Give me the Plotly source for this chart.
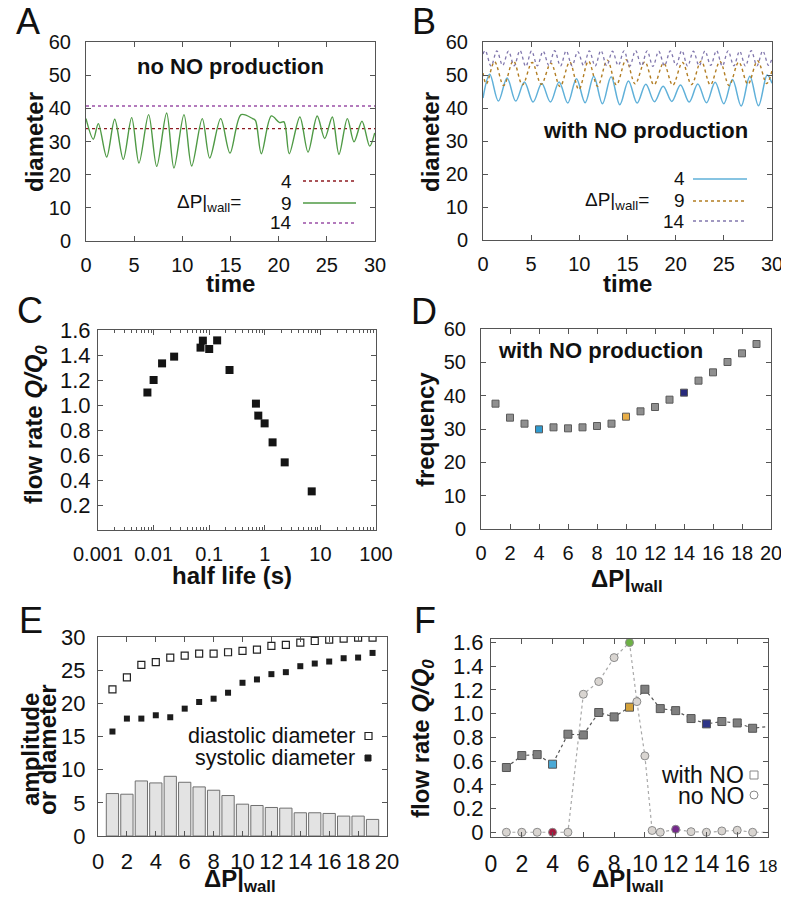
import plotly.graph_objects as go

# the page adds an 8px body margin; the figure is sized to fill the rest
OFF = 8
W, H = 789 - OFF, 906 - OFF
FONT = "Liberation Sans, Arial, Helvetica, sans-serif"
INK = "#111111"
FRAME = "#555555"

# ---------------- Panel A: no NO production ----------------
a_dp_labels = ["4", "9", "14"]
a_level_4 = 33.9
a_level_14 = 40.7
a_time_range = [0, 30]
a_t_9 = [0, 0.76, 1.28, 2.15, 2.98, 3.87, 4.74, 5.5, 6.5, 7.34, 8.37, 9.13, 10.17, 10.97,
         12.07, 12.84, 13.98, 14.95, 16.1, 17.3, 17.6, 18.2, 19.24, 20.1, 20.55, 21.1,
         22.2, 23.05, 24.0, 24.78, 25.57, 26.26, 27.13, 27.82, 28.65, 29.45, 29.97]
a_d_9 = [36.9, 30.7, 35.4, 25.3, 36.7, 24.6, 37.2, 23.5, 38.1, 22.5, 38.6, 22.0, 38.1, 22.6,
         36.9, 25.0, 36.9, 26.5, 38.1, 36.9, 36.3, 26.3, 37.7, 35.7, 35.9, 26.3,
         37.4, 26.8, 37.7, 30.9, 37.4, 26.1, 36.9, 29.9, 36.1, 28.6, 32.6]

# ---------------- Panel B: with NO production ----------------
b_t_4 = [0, 0.7, 1.6, 2.5, 3.4, 4.3, 5.2, 6.1, 7.0, 7.9, 8.8, 9.7, 10.6, 11.5, 12.4, 13.3,
         14.2, 15.1, 16.0, 16.9, 17.8, 18.7, 19.6, 20.5, 21.4, 22.3, 23.2, 24.1, 25.0, 25.9,
         26.8, 27.7, 28.6, 29.5, 30]
b_d_4 = [43.0, 50.2, 42.1, 49.1, 42.1, 47.9, 41.8, 47.4, 41.8, 47.9, 41.5, 48.9, 41.6, 49.6,
         41.3, 49.5, 41.0, 48.2, 41.5, 47.2, 41.9, 46.6, 42.0, 47.0, 41.8, 47.3, 41.6, 47.8,
         41.3, 48.6, 40.6, 49.6, 40.7, 50.0, 47.5]
b_t_9 = [0, 0.35, 1.2, 2.15, 3.15, 4.1, 5.1, 6.05, 7.05, 8.0, 9.0, 9.95, 10.95, 11.9, 12.9,
         13.85, 14.85, 15.8, 16.8, 17.75, 18.75, 19.7, 20.7, 21.65, 22.65, 23.6, 24.6, 25.55,
         26.55, 27.5, 28.5, 29.45, 30]
b_d_9 = [50.6, 47.3, 54.0, 46.8, 54.3, 47.0, 53.8, 47.2, 53.6, 46.5, 53.9, 45.6, 54.2, 46.6,
         54.5, 47.0, 54.6, 47.3, 54.0, 47.0, 53.6, 46.9, 53.8, 47.1, 54.2, 47.0, 54.1, 46.8,
         53.9, 47.2, 54.3, 47.4, 51.4]
b_t_14 = [0, 0.24, 0.84, 1.44, 2.04, 2.64, 3.24, 3.84, 4.44, 5.04, 5.64, 6.24, 6.84, 7.44,
          8.04, 8.64, 9.24, 9.84, 10.44, 11.04, 11.64, 12.24, 12.84, 13.44, 14.04, 14.64,
          15.24, 15.84, 16.44, 17.04, 17.64, 18.24, 18.84, 19.44, 20.04, 20.64, 21.24, 21.84,
          22.44, 23.04, 23.64, 24.24, 24.84, 25.44, 26.04, 26.64, 27.24, 27.84, 28.44, 29.04,
          29.64, 30]
b_d_14 = [56.4, 57.4, 52.7, 57.3, 52.9, 57.2, 52.8, 57.4, 52.6, 57.3, 52.8, 57.2, 52.9, 57.4,
          52.7, 57.3, 52.8, 57.1, 52.9, 57.3, 52.7, 57.4, 52.8, 57.2, 52.9, 57.3, 52.7,
          57.4, 52.8, 57.3, 52.6, 57.2, 52.8, 57.3, 52.9, 57.4, 52.7, 57.2, 52.8,
          57.3, 52.9, 57.4, 52.7, 57.3, 52.8, 57.2, 52.7, 57.4, 52.8, 57.3,
          52.9, 55.0]

# ---------------- Panel C: flow rate vs half life ----------------
c_half_life = [0.00774, 0.0100, 0.0142, 0.0234, 0.0698, 0.0769, 0.100, 0.139, 0.232,
               0.693, 0.764, 0.993, 1.38, 2.28, 6.98]
c_flow = [1.10, 1.20, 1.333, 1.387, 1.459, 1.515, 1.448, 1.517, 1.28,
          1.011, 0.915, 0.853, 0.701, 0.541, 0.309]
c_xtickvals = [0.001, 0.01, 0.1, 1, 10, 100]
c_xticktext = ["0.001", "0.01", "0.1", "1", "10", "100"]
c_xminor = [0.002, 0.003, 0.004, 0.005, 0.006, 0.007, 0.008, 0.009,
            0.02, 0.03, 0.04, 0.05, 0.06, 0.07, 0.08, 0.09,
            0.2, 0.3, 0.4, 0.5, 0.6, 0.7, 0.8, 0.9,
            2, 3, 4, 5, 6, 7, 8, 9,
            20, 30, 40, 50, 60, 70, 80, 90]
c_ytickvals = [0.2, 0.4, 0.6, 0.8, 1.0, 1.2, 1.4, 1.6]

# ---------------- Panel D: frequency ----------------
d_dp = list(range(1, 20))
d_freq = [37.6, 33.4, 31.6, 29.9, 30.5, 30.2, 30.5, 30.9, 31.6, 33.7,
          35.3, 36.6, 38.8, 40.9, 44.5, 47.0, 50.1, 52.7, 55.5]
d_colors = ["#8f8f8f"] * 19
d_colors[3] = "#2f9bd0"
d_colors[9] = "#e8ae47"
d_colors[13] = "#27297a"

# ---------------- Panel E: amplitude / diameters ----------------
e_dp = list(range(1, 20))
e_diastolic = [22.1, 23.9, 25.8, 26.2, 26.9, 27.2, 27.5, 27.5, 27.7, 27.9,
               28.1, 28.65, 28.8, 29.15, 29.4, 29.6, 29.75, 29.9, 29.9]
e_systolic = [15.75, 17.7, 17.7, 18.2, 17.9, 19.2, 20.2, 20.7, 21.6, 23.1,
              23.6, 24.4, 24.7, 25.6, 26.0, 26.3, 26.8, 26.9, 27.6]
e_amplitude = [6.4, 6.3, 8.3, 8.0, 9.0, 8.1, 7.4, 6.9, 6.1, 4.8,
               4.6, 4.3, 4.2, 3.5, 3.5, 3.4, 3.0, 3.0, 2.5]

# ---------------- Panel F: flow rate vs dP ----------------
f_with_x = [1, 2, 3, 4, 5, 6, 7, 8, 9, 10, 11, 12, 13, 14, 15, 16, 17, 18.5]
f_with_y = [0.546, 0.647, 0.655, 0.574, 0.827, 0.821, 1.01, 0.973, 1.055, 1.206,
            1.043, 1.026, 0.959, 0.914, 0.934, 0.922, 0.877, 0.90]
f_no_x = [1, 2, 3, 4, 5, 6, 7, 8, 9, 9.48, 10, 10.47, 11, 12, 13, 14, 15, 16, 17, 18.5]
f_no_y = [0, 0, 0, 0, 0, 1.164, 1.271, 1.473, 1.6, 1.102, 0.644, 0.015, 0, 0.025, 0.005,
          0, 0.011, 0.017, 0, 0]
f_with_colors = ["#7f7f7f"] * 18
f_with_colors[3] = "#4aa9d6"
f_with_colors[8] = "#d4a23a"
f_with_colors[13] = "#2d3487"
f_no_colors = ["#d9d5d1"] * 20
f_no_colors[3] = "#a3173c"
f_no_colors[8] = "#6db145"
f_no_colors[13] = "#74298b"
f_xtickvals = [0, 2, 4, 6, 8, 10, 12, 14, 16, 18]
f_xticktext = ["0", "2", "4", "6", "8", "10", "12", "14", "16",
               "<span style='font-size:17px'>18</span>"]
f_ytickvals = [0, 0.2, 0.4, 0.6, 0.8, 1.0, 1.2, 1.4, 1.6]
f_yticktext = ["0", "0.2", "0.4", "0.6", "0.8", "1.0", "1.2", "1.4", "1.6"]


def px(x):
    return (x - OFF) / W


def py(y):
    return 1 - (y - OFF) / H


def dom(x0, x1, y0, y1):
    return [px(x0), px(x1)], [py(y1), py(y0)]


def axis(domain, anchor, size=20, standoff=6, **kw):
    d = dict(domain=domain, anchor=anchor, showline=True, mirror="ticks",
             linecolor=FRAME, linewidth=1, ticks="inside", ticklen=5,
             tickcolor=FRAME, showgrid=False, zeroline=False, automargin=False,
             ticklabelstandoff=standoff,
             tickfont=dict(family=FONT, size=size, color=INK))
    d.update(kw)
    return d


fig = go.Figure()

# A traces
fig.add_trace(go.Scatter(x=a_time_range, y=[a_level_14, a_level_14], mode="lines",
                         line=dict(color="#9b4fa6", width=1.3, dash="dot"),
                         xaxis="x", yaxis="y"))
fig.add_trace(go.Scatter(x=a_time_range, y=[a_level_4, a_level_4], mode="lines",
                         line=dict(color="#8e1b22", width=1.3, dash="dot"),
                         xaxis="x", yaxis="y"))
fig.add_trace(go.Scatter(x=a_t_9, y=a_d_9, mode="lines",
                         line=dict(color="#4f9a45", width=1.4, shape="spline", smoothing=0.9),
                         xaxis="x", yaxis="y"))

# B traces
fig.add_trace(go.Scatter(x=b_t_4, y=b_d_4, mode="lines",
                         line=dict(color="#5fb0d9", width=1.5, shape="spline", smoothing=1),
                         xaxis="x2", yaxis="y2"))
fig.add_trace(go.Scatter(x=b_t_9, y=b_d_9, mode="lines",
                         line=dict(color="#b27d22", width=1.4, dash="dot", shape="spline",
                                   smoothing=1),
                         xaxis="x2", yaxis="y2"))
fig.add_trace(go.Scatter(x=b_t_14, y=b_d_14, mode="lines",
                         line=dict(color="#8177ad", width=1.3, dash="dot", shape="spline",
                                   smoothing=1),
                         xaxis="x2", yaxis="y2"))

# C
fig.add_trace(go.Scatter(x=c_half_life, y=c_flow, mode="markers",
                         marker=dict(symbol="square", size=8, color="#141414"),
                         xaxis="x3", yaxis="y3"))

# D
fig.add_trace(go.Scatter(x=d_dp, y=d_freq, mode="markers",
                         marker=dict(symbol="square", size=7, color=d_colors,
                                     line=dict(color="#5a5a5a", width=1)),
                         xaxis="x4", yaxis="y4"))

# E
fig.add_trace(go.Bar(x=e_dp, y=e_amplitude, width=0.85,
                     marker=dict(color="#e3e3e3", line=dict(color="#707070", width=1)),
                     xaxis="x5", yaxis="y5"))
fig.add_trace(go.Scatter(x=e_dp, y=e_diastolic, mode="markers",
                         marker=dict(symbol="square-open", size=7, color="#222222",
                                     line=dict(width=1.2)),
                         xaxis="x5", yaxis="y5"))
fig.add_trace(go.Scatter(x=e_dp, y=e_systolic, mode="markers",
                         marker=dict(symbol="square", size=6, color="#1c1c1c"),
                         xaxis="x5", yaxis="y5"))

# F
fig.add_trace(go.Scatter(x=f_with_x, y=f_with_y, mode="lines+markers",
                         line=dict(color="#555555", width=1.2, dash="dot"),
                         marker=dict(symbol="square", size=8, color=f_with_colors,
                                     line=dict(color="#555555", width=1)),
                         xaxis="x6", yaxis="y6"))
fig.add_trace(go.Scatter(x=f_no_x, y=f_no_y, mode="lines+markers",
                         line=dict(color="#a9a9a9", width=1.2, dash="dot"),
                         marker=dict(symbol="circle", size=8, color=f_no_colors,
                                     line=dict(color="#8a8a8a", width=1)),
                         xaxis="x6", yaxis="y6"))

# domains (pixel boxes of the plot frames, page coordinates)
A = dom(86, 375, 42, 241)
B = dom(483, 772, 42, 240)
C = dom(98, 376, 330, 530)
D = dom(481, 771, 329, 529)
E = dom(98, 387, 637, 836)
F = dom(491, 768, 639, 837)

fig.update_layout(
    width=W, height=H, margin=dict(l=0, r=0, t=0, b=0, autoexpand=False),
    paper_bgcolor="white", plot_bgcolor="white", showlegend=False,
    font=dict(family=FONT, color=INK),
    xaxis=axis(A[0], "y", range=[0, 30], dtick=5, standoff=6),
    yaxis=axis(A[1], "x", range=[0, 60], dtick=10, standoff=10),
    xaxis2=axis(B[0], "y2", range=[0, 30], dtick=5, standoff=6),
    yaxis2=axis(B[1], "x2", range=[0, 60], dtick=10, standoff=10),
    xaxis3=axis(C[0], "y3", type="log", range=[-3, 2], tickvals=c_xtickvals,
                ticktext=c_xticktext, standoff=6,
                minor=dict(ticks="inside", ticklen=3, tickcolor=FRAME, tickvals=c_xminor)),
    yaxis3=axis(C[1], "x3", range=[0, 1.6], tickvals=c_ytickvals, tickformat=".1f",
                standoff=2, size=22),
    xaxis4=axis(D[0], "y4", range=[0, 20], dtick=2, standoff=6),
    yaxis4=axis(D[1], "x4", range=[0, 60], dtick=10, standoff=10),
    xaxis5=axis(E[0], "y5", range=[0, 20], dtick=2, standoff=6, size=22),
    yaxis5=axis(E[1], "x5", range=[0, 30], dtick=5, standoff=7, size=22),
    xaxis6=axis(F[0], "y6", range=[0, 18], tickvals=f_xtickvals, ticktext=f_xticktext,
                standoff=6, size=23),
    yaxis6=axis(F[1], "x6", range=[-0.04, 1.63], tickvals=f_ytickvals,
                ticktext=f_yticktext, standoff=2, size=22),
)

ann = []


def note(x, y, text, size, xanchor="center", yanchor="middle", angle=0, color=INK):
    ann.append(dict(x=px(x), y=py(y), xref="paper", yref="paper", text=text,
                    showarrow=False, xanchor=xanchor, yanchor=yanchor, textangle=angle,
                    font=dict(family=FONT, size=size, color=color)))


# panel letters
for letter, (lx, ly) in {"A": (28, 22), "B": (424, 22), "C": (30, 310),
                         "D": (424, 311), "E": (31, 620), "F": (425, 620)}.items():
    note(lx, ly, letter, 36)

DP = "<b>ΔP|<sub>wall</sub></b>"
QQ = "<b>flow rate <i>Q/Q<sub>0</sub></i></b>"

# axis titles
note(34, 142, "<b>diameter</b>", 24, angle=-90)
note(230, 283, "<b>time</b>", 24)
note(430, 142, "<b>diameter</b>", 24, angle=-90)
note(627, 283, "<b>time</b>", 24)
note(36, 425, QQ, 24, angle=-90)
note(232, 575, "<b>half life (s)</b>", 24)
note(425, 430, "<b>frequency</b>", 24, angle=-90)
note(627, 580, DP, 24)
note(30, 750, "<b>amplitude</b>", 24, angle=-90)
note(47, 750, "<b>or diameter</b>", 24, angle=-90)
note(240, 880, DP, 24)
note(422, 738, QQ, 24, angle=-90)
note(628, 880, DP, 24)

# in-panel headings
note(230, 67, "<b>no NO production</b>", 22)
note(645, 130, "<b>with NO production</b>", 22)
note(600, 350, "<b>with NO production</b>", 22)

shapes = []


def key_line(x0, x1, y, color, dash, width=1.3):
    shapes.append(dict(type="line", xref="paper", yref="paper", x0=px(x0), x1=px(x1),
                       y0=py(y), y1=py(y), line=dict(color=color, dash=dash, width=width)))


# legend A
for lab, yy, col, dash in zip(a_dp_labels, [181, 203, 223],
                              ["#8e1b22", "#4f9a45", "#9b4fa6"], ["dot", "solid", "dot"]):
    note(294, yy, lab, 19, xanchor="right")
    key_line(303, 356, yy, col, dash)
note(243, 203, "ΔP|<sub>wall</sub>=", 19, xanchor="right")

# legend B
for lab, yy, col, dash in zip(a_dp_labels, [179, 201, 221],
                              ["#5fb0d9", "#b27d22", "#8177ad"], ["solid", "dot", "dot"]):
    note(687, yy, lab, 19, xanchor="right")
    key_line(693, 747, yy, col, dash, 1.5)
note(651, 201, "ΔP|<sub>wall</sub>=", 19, xanchor="right")

# legend E
note(357, 736, "diastolic diameter", 21.5, xanchor="right")
note(357, 758, "systolic diameter", 21.5, xanchor="right")
shapes.append(dict(type="rect", xref="paper", yref="paper", x0=px(365), x1=px(372),
                   y0=py(739.5), y1=py(732.5), line=dict(color="#222222", width=1.2),
                   fillcolor="white"))
shapes.append(dict(type="rect", xref="paper", yref="paper", x0=px(365), x1=px(371),
                   y0=py(761), y1=py(755), line=dict(color="#1c1c1c", width=1),
                   fillcolor="#1c1c1c"))

# legend F
note(746, 775, "with NO", 23, xanchor="right")
note(746, 796, "no NO", 23, xanchor="right")
shapes.append(dict(type="rect", xref="paper", yref="paper", x0=px(750), x1=px(758),
                   y0=py(779), y1=py(771), line=dict(color="#888888", width=1),
                   fillcolor="white"))
shapes.append(dict(type="circle", xref="paper", yref="paper", x0=px(750), x1=px(758),
                   y0=py(799), y1=py(791), line=dict(color="#888888", width=1),
                   fillcolor="white"))

fig.update_layout(annotations=ann, shapes=shapes)

fig.write_html("out.html")
